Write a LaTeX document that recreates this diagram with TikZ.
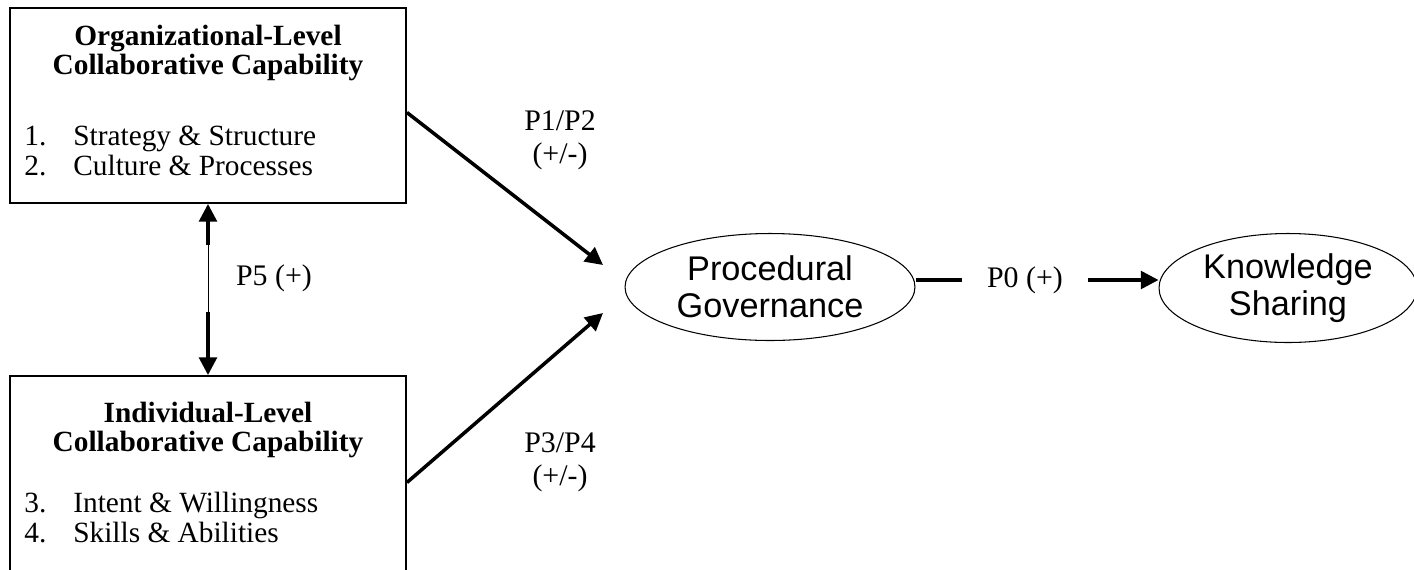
\documentclass[tikz,border=0pt]{standalone}
\usepackage{fontspec}
\setmainfont{Liberation Serif}
\newfontfamily\arialfont{Liberation Sans}
\usepackage{tikz}
\usetikzlibrary{positioning,arrows.meta,calc,shapes.geometric}

\tikzset{
  capbox/.style={draw, line width=1.1pt, minimum width=7.92cm, minimum height=3.9cm, inner sep=0pt},
  construct/.style={draw, ellipse, line width=0.6pt, inner sep=0pt, align=center,
    font=\arialfont\fontsize{19.5}{21}\selectfont},
  head/.style={align=center, font=\bfseries\fontsize{16.7}{17}\selectfont},
  item/.style={anchor=base west, inner sep=0pt, font=\fontsize{16.7}{17}\selectfont},
  lbl/.style={align=center, font=\fontsize{17}{18.7}\selectfont},
  link/.style={line width=2pt, -{Triangle[length=10pt,width=10pt]}}
}

\begin{document}
\begin{tikzpicture}[x=0.02cm, y=-0.02cm]
\clip (0,0) rectangle (1414,569);
% capability boxes
\node[capbox] (org) at (208,105.5) {};
\node[capbox] (ind) at (208,473.5) {};
\node[head] (orgtitle) at (208,53) {Organizational-Level\\Collaborative Capability};
\node[head] (indtitle) at (208,430) {Individual-Level\\Collaborative Capability};
\foreach \n/\txt/\y in {1/Strategy \& Structure/145, 2/Culture \& Processes/175,
    3/Intent \& Willingness/512, 4/Skills \& Abilities/542} {
  \node[item] (num\n) at (24,\y) {\n.};
  \node[item] (item\n) at (73,\y) {\txt};
}
% constructs
\node[construct, minimum width=5.8cm, minimum height=2.14cm] (pg) at (770,287) {Procedural\\Governance};
\node[construct, minimum width=5.16cm, minimum height=2.18cm] (ks) at (1288,288) {Knowledge\\Sharing};
% P5 link between the boxes
\coordinate (p5a) at (208,245);
\coordinate (p5b) at (208,312);
\draw[line width=0.5pt] (p5a) -- (p5b);
\draw[link] (p5a) -- (org.south);
\draw[link] (p5b) -- (ind.north);
\node[lbl] (p5) at (274,278) {P5 (+)};
% links into procedural governance
\coordinate (tipa) at (603,265);
\coordinate (tipb) at (603,313);
\draw[link] ([yshift=-0.14cm]org.east) -- (tipa);
\draw[link] ([yshift=-0.18cm]ind.east) -- (tipb);
\node[lbl] (p12) at (560,140) {P1/P2\\(+/-)};
\node[lbl] (p34) at (560,462) {P3/P4\\(+/-)};
% P0 link
\node[lbl, inner xsep=14pt] (p0) at (1025,280) {P0 (+)};
\draw[line width=2pt] (pg.east |- p0.west) -- (p0.west);
\draw[link] (p0.east) -- (p0.east -| ks.west);
\end{tikzpicture}
\end{document}
